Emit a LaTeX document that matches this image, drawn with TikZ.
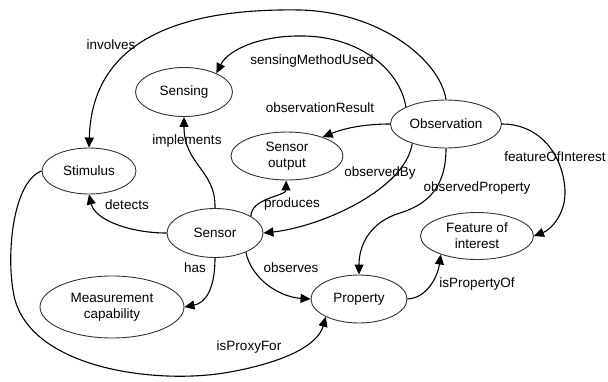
\documentclass[tikz,border=0pt]{standalone}
\usepackage{fontspec}
\setmainfont{Liberation Sans}
\usepackage{tikz}
\usetikzlibrary{arrows.meta,shapes.geometric}

\begin{document}
\begin{tikzpicture}[x=1pt,y=-1pt,
  font=\fontsize{13.5}{16}\selectfont,
  concept/.style={ellipse,draw=black!80,line width=0.9pt,inner sep=0pt,align=center},
  rel/.style={inner sep=0pt},
  link/.style={-{Triangle[length=10pt,width=9pt]},line width=1.1pt}]
  \useasboundingbox (0,0) rectangle (608,381);
  % classes
  \node[concept,minimum width=97pt,minimum height=49pt] (sensing) at (184,92) {Sensing};
  \node[concept,minimum width=94pt,minimum height=46pt] (stim) at (89,171) {Stimulus};
  \node[concept,minimum width=112pt,minimum height=48pt] (out) at (287,156) {Sensor\\output};
  \node[concept,minimum width=111pt,minimum height=48pt] (obs) at (446,124) {Observation};
  \node[concept,minimum width=96pt,minimum height=49pt] (sensor) at (215,233) {Sensor};
  \node[concept,minimum width=144pt,minimum height=62pt] (mc) at (112,307) {Measurement\\capability};
  \node[concept,minimum width=96pt,minimum height=48pt] (prop) at (359,299) {Property};
  \node[concept,minimum width=113pt,minimum height=47pt] (foi) at (477,236) {Feature of\\interest};
  % relations
  \draw[link] (obs.north) .. controls (440,60) and (380,12) .. (300,10)
    .. controls (180,8) and (92,40) .. (stim.north);
  \draw[link] (obs.157) .. controls (400,70) and (360,37) .. (304,36)
    .. controls (260,35) and (228,50) .. (sensing.30);
  \draw[link] (obs.west) .. controls (365,124) and (345,128) .. (out.28);
  \draw[link] (obs.210) .. controls (405,190) and (320,227) .. (sensor.east);
  \draw[link] (obs.south) .. controls (446,190) and (425,205) .. (400,213)
    .. controls (370,222) and (359,245) .. (prop.north);
  \draw[link] (obs.east) .. controls (540,124) and (563,155) .. (565,190)
    .. controls (566,215) and (550,230) .. (foi.east);
  \draw[link] (sensor.north) .. controls (216,170) and (184,165) .. (sensing.south);
  \draw[link] (sensor.25) .. controls (251,198) and (286,196) .. (out.-92);
  \draw[link] (sensor.west) .. controls (130,233) and (95,220) .. (stim.-90);
  \draw[link] (sensor.south) .. controls (215,290) and (205,303) .. (mc.east);
  \draw[link] (sensor.-32) .. controls (252,280) and (280,297) .. (prop.west);
  \draw[link] (prop.east) .. controls (428,298) and (438,275) .. (foi.207);
  \draw[link] (stim.west) .. controls (12,182) and (5,260) .. (15,300)
    .. controls (35,370) and (160,385) .. (230,372)
    .. controls (285,362) and (318,345) .. (prop.208);
  % labels
  \node[rel] (lInvolves) at (111,45) {involves};
  \node[rel] (lMethod) at (312,61) {sensingMethodUsed};
  \node[rel] (lResult) at (320,108) {observationResult};
  \node[rel] (lBy) at (380,173) {observedBy};
  \node[rel] (lProperty) at (477,188) {observedProperty};
  \node[rel] (lFeature) at (555,157) {featureOfInterest};
  \node[rel] (lImplements) at (187,141) {implements};
  \node[rel] (lProduces) at (292,204) {produces};
  \node[rel] (lDetects) at (127,205) {detects};
  \node[rel] (lHas) at (195,268) {has};
  \node[rel] (lObserves) at (291,268) {observes};
  \node[rel] (lPropOf) at (477,284) {isPropertyOf};
  \node[rel] (lProxy) at (249,347) {isProxyFor};
\end{tikzpicture}
\end{document}
